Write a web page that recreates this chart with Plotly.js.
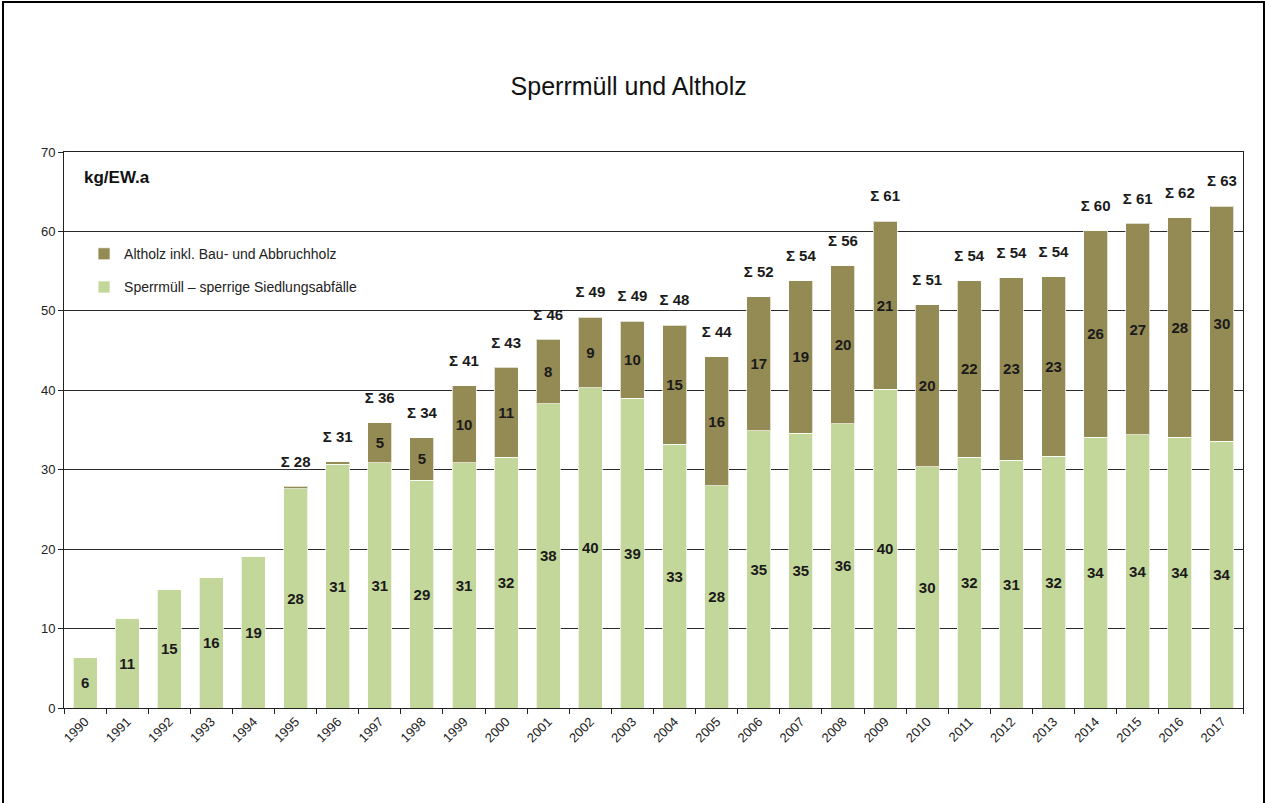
<!DOCTYPE html>
<html>
<head>
<meta charset="utf-8">
<script src="https://cdn.plot.ly/plotly-3.0.1.min.js"></script>
<style>
  body { margin: 0; background: #fff; }
  #wrap { position: relative; width: 1265px; height: 803px; }
  #chart { width: 1265px; height: 803px; }
  #frame { position: absolute; left: 2px; top: 1px; width: 1259px; height: 810px; border: 2px solid #000; pointer-events: none; }
</style>
</head>
<body>
<div id="wrap">
  <div id="chart"></div>
  <div id="frame"></div>
</div>
<script>
const years = ['1990','1991','1992','1993','1994','1995','1996','1997','1998','1999','2000','2001','2002','2003','2004','2005','2006','2007','2008','2009','2010','2011','2012','2013','2014','2015','2016','2017'];
const sperrmuell = [6.3, 11.3, 14.9, 16.4, 19.1, 27.6, 30.7, 30.9, 28.7, 30.9, 31.6, 38.3, 40.3, 39.0, 33.2, 28.0, 34.9, 34.6, 35.8, 40.1, 30.4, 31.6, 31.2, 31.7, 34.1, 34.4, 34.1, 33.6];
const altholz    = [0, 0, 0, 0, 0, 0.3, 0.3, 5.0, 5.3, 9.7, 11.3, 8.1, 8.9, 9.7, 15.0, 16.2, 16.9, 19.2, 19.9, 21.2, 20.4, 22.2, 23.0, 22.6, 26.0, 26.6, 27.6, 29.6];
const seriesNames = ['Sperrmüll – sperrige Siedlungsabfälle', 'Altholz inkl. Bau- und Abbruchholz'];

const totals = sperrmuell.map((v, i) => Math.round((v + altholz[i]) * 10) / 10);
const greenText = sperrmuell.map(v => String(Math.round(v)));
const altText = altholz.map(v => v >= 2 ? String(Math.round(v)) : '');
const sumText = totals.map((t, i) => altholz[i] > 0 ? 'Σ ' + Math.round(t) : '');

const labelFont = {family: 'Liberation Sans, Arial, sans-serif', size: 15, color: '#1a1a1a', weight: 'bold'};

const traces = [
  {
    type: 'bar', x: years, y: sperrmuell, name: seriesNames[0], legendgroup: 'g1', legendrank: 2,
    marker: {color: '#c4d79b', line: {color: 'rgba(255,255,255,0.7)', width: 1}},
    text: greenText, textposition: 'inside', insidetextanchor: 'middle',
    textangle: 0, textfont: labelFont, hoverinfo: 'x+y+name'
  },
  {
    type: 'bar', x: years, y: altholz, name: seriesNames[1], legendgroup: 'g2', legendrank: 1,
    marker: {color: '#948a54', line: {color: 'rgba(255,255,255,0.7)', width: 1}},
    text: altText, textposition: 'inside', insidetextanchor: 'middle',
    textangle: 0, textfont: labelFont, hoverinfo: 'x+y+name'
  },
  {
    type: 'scatter', mode: 'markers+text', x: years, y: totals,
    marker: {size: 24, opacity: 0, color: '#fff'},
    text: sumText, textposition: 'top center',
    textfont: labelFont, showlegend: false, hoverinfo: 'skip', cliponaxis: false
  }
];

const layout = {
  width: 1265, height: 803,
  margin: {l: 64, r: 22, t: 152, b: 95},
  paper_bgcolor: '#fff', plot_bgcolor: '#fff',
  barmode: 'stack', bargap: 0.43,
  title: {text: 'Sperrmüll und Altholz', x: 0.497, xanchor: 'center', y: 0.892, yanchor: 'middle',
          font: {family: 'Liberation Sans, Arial, sans-serif', size: 25, color: '#111'}},
  font: {family: 'Liberation Sans, Arial, sans-serif', color: '#222'},
  xaxis: {
    type: 'category', range: [-0.5, years.length - 0.5], autorange: false,
    tickangle: -45, tickson: 'boundaries',
    ticks: 'outside', ticklen: 5, tickcolor: '#222',
    showline: true, linecolor: '#222', linewidth: 1, mirror: true,
    tickfont: {size: 13, color: '#222'}, showgrid: false, fixedrange: true
  },
  yaxis: {
    range: [0, 70], autorange: false, dtick: 10, tick0: 0,
    ticks: 'outside', ticklen: 5, tickcolor: '#222',
    showline: true, linecolor: '#222', linewidth: 1, mirror: true,
    showgrid: true, gridcolor: '#2a2a2a', gridwidth: 1, zeroline: false,
    tickfont: {size: 13, color: '#222'}, fixedrange: true
  },
  legend: {
    x: 0.017, y: 0.845, xanchor: 'left', yanchor: 'top',
    traceorder: 'grouped', tracegroupgap: 12, bgcolor: 'rgba(0,0,0,0)',
    font: {size: 14, color: '#222'}, itemwidth: 30
  },
  annotations: [{
    text: '<b>kg/EW.a</b>', xref: 'paper', yref: 'paper', x: 0.015, y: 0.955,
    xanchor: 'left', yanchor: 'middle', showarrow: false,
    font: {size: 17, color: '#111'}
  }]
};

Plotly.newPlot('chart', traces, layout, {displayModeBar: false, staticPlot: true});
</script>
</body>
</html>
